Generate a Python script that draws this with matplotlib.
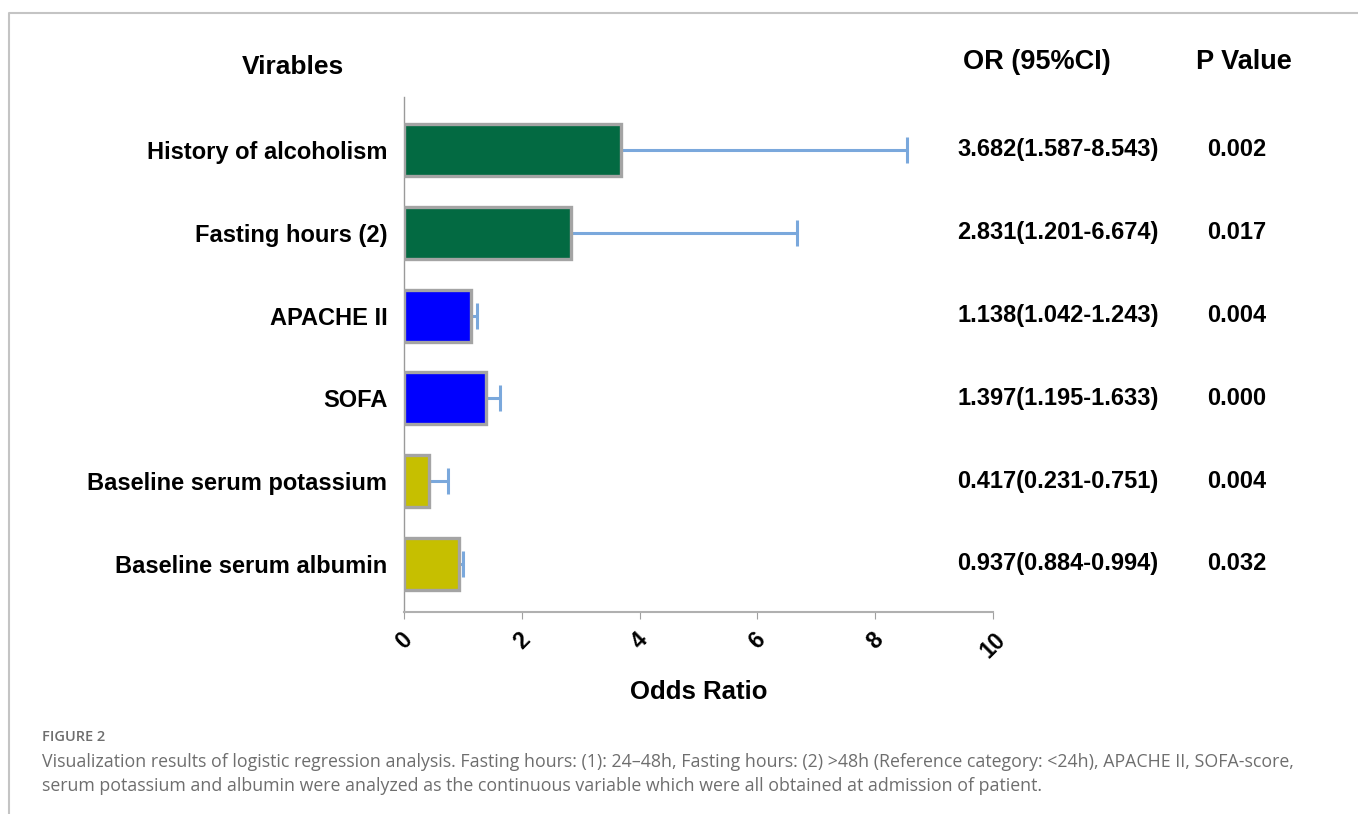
import numpy as np
import matplotlib
matplotlib.use("Agg")
import matplotlib.pyplot as plt
from matplotlib.lines import Line2D
from matplotlib.transforms import blended_transform_factory

plt.rcParams['font.family'] = ['Liberation Sans', 'DejaVu Sans']

# logistic regression results
variables = ['History of alcoholism', 'Fasting hours (2)', 'APACHE II', 'SOFA',
             'Baseline serum potassium', 'Baseline serum albumin']
odds = [3.682, 2.831, 1.138, 1.397, 0.417, 0.937]
ci_low = [1.587, 1.201, 1.042, 1.195, 0.231, 0.884]
ci_high = [8.543, 6.674, 1.243, 1.633, 0.751, 0.994]
p_values = ['0.002', '0.017', '0.004', '0.000', '0.004', '0.032']
bar_colors = ['#036a42', '#036a42', '#0000ff', '#0000ff', '#c6bf00', '#c6bf00']

W, H = 1358, 814
fig = plt.figure(figsize=(W / 100, H / 100), dpi=100)
ax = fig.add_axes([404 / W, 1 - 612 / H, 589 / W, 515 / H])

y = np.arange(len(variables))
odds_arr = np.array(odds)
err = [odds_arr - np.array(ci_low), np.array(ci_high) - odds_arr]

ax.errorbar(odds, y, xerr=err, fmt='none', ecolor='#7aa8dc', elinewidth=2.2,
            capsize=9.5, capthick=2.2, zorder=2)
ax.barh(y, odds, height=0.63, color=bar_colors, edgecolor='#a4a4a4',
        linewidth=2.4, zorder=3)

ax.set_xlim(0, 10)
ax.set_ylim(5.58, -0.64)
ax.set_xticks(np.arange(0, 11, 2))
ax.set_xticklabels([str(v) for v in range(0, 11, 2)], rotation=45,
                   fontsize=16.5, fontweight='bold')
ax.set_yticks(y)
ax.set_yticklabels(variables, fontsize=17, fontweight='bold')
ax.tick_params(axis='y', length=0, pad=12)
ax.tick_params(axis='x', length=5, color='#a0a0a0', pad=7)
for s in ['top', 'right']:
    ax.spines[s].set_visible(False)
ax.spines['left'].set_color('#9a9a9a')
ax.spines['left'].set_linewidth(1.0)
ax.spines['bottom'].set_color('#b0b0b0')
ax.spines['bottom'].set_linewidth(1.5)
ax.set_xlabel('Odds Ratio', fontsize=18.5, fontweight='bold', labelpad=12)

# table columns to the right of the plot
tr = blended_transform_factory(fig.transFigure, ax.transData)
for i in range(len(variables)):
    ax.text(1058 / W, y[i], f'{odds[i]:.3f}({ci_low[i]:.3f}-{ci_high[i]:.3f})',
            transform=tr, ha='center', va='center', fontsize=17,
            fontweight='bold')
    ax.text(1237 / W, y[i], p_values[i], transform=tr, ha='center',
            va='center', fontsize=17, fontweight='bold')

fig.text(293 / W, 1 - 67 / H, 'Virables', ha='center', va='center',
         fontsize=19, fontweight='bold')
fig.text(1037 / W, 1 - 62 / H, 'OR (95%CI)', ha='center', va='center',
         fontsize=19.5, fontweight='bold')
fig.text(1244 / W, 1 - 62 / H, 'P Value', ha='center', va='center',
         fontsize=19.5, fontweight='bold')

# frame
fig.add_artist(Line2D([9 / W, 9 / W, 1], [0, 1 - 13 / H, 1 - 13 / H],
                      transform=fig.transFigure, color='#c4c4c4', lw=1.5))

# caption
cap_font = ['Open Sans', 'DejaVu Sans']
fig.text(42 / W, 1 - 737 / H, 'FIGURE 2', fontsize=10.5, color='#6e6e6e',
         family=cap_font, fontweight='semibold', va='center')
fig.text(42 / W, 1 - 762 / H,
         'Visualization results of logistic regression analysis. Fasting hours: (1): 24\u201348h, '
         'Fasting hours: (2) >48h (Reference category: <24h), APACHE II, SOFA-score,',
         fontsize=12.8, color='#6e6e6e', family=cap_font, va='center')
fig.text(42 / W, 1 - 786 / H,
         'serum potassium and albumin were analyzed as the continuous variable which were all '
         'obtained at admission of patient.',
         fontsize=12.8, color='#6e6e6e', family=cap_font, va='center')

fig.savefig('out.png', dpi=100)
